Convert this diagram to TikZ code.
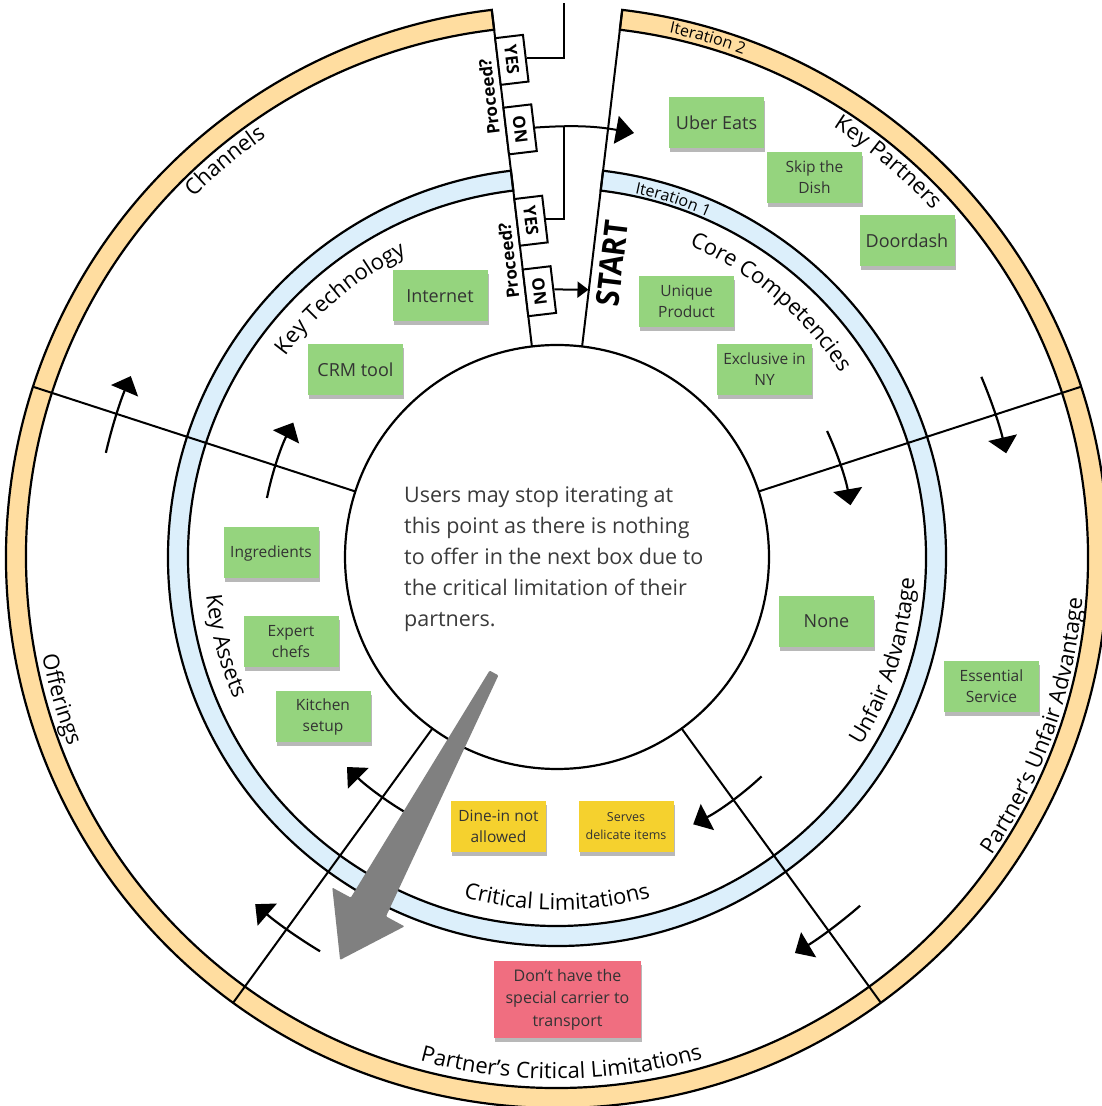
\documentclass[tikz,border=0pt]{standalone}
\usepackage{fontspec}
\setmainfont{Open Sans}
\usetikzlibrary{arrows.meta,decorations.text,shadows}
\definecolor{ringorange}{HTML}{FFDDA0}
\definecolor{ringblue}{HTML}{DCEFFB}
\definecolor{notegreen}{HTML}{95D47E}
\definecolor{noteyellow}{HTML}{F5D12E}
\definecolor{notepink}{HTML}{F06E80}
\definecolor{notetext}{HTML}{333333}
\definecolor{ctext}{HTML}{3A3A3A}
\definecolor{bigarrow}{HTML}{808080}
\newcommand{\labfont}{\fontsize{22}{26}\selectfont}
\newcommand{\itfont}{\fontsize{16}{19}\selectfont}
\tikzset{
  ringline/.style={draw=black, line width=2.2pt},
  divider/.style={line width=2pt},
  ringarrow/.style={line width=2.2pt, -{Triangle[length=16pt,width=29pt]}},
  conn/.style={line width=2pt},
  notebase/.style={minimum width=95pt, minimum height=51pt, inner sep=1pt, align=center, text=notetext,
    drop shadow={shadow xshift=1pt, shadow yshift=-4pt, opacity=0.28, fill=black}},
  gnote/.style={notebase, fill=notegreen, font=\fontsize{18}{22}\selectfont},
  gnotetwo/.style={notebase, fill=notegreen, font=\fontsize{15.5}{21}\selectfont},
  ynote/.style={notebase, fill=noteyellow, font=\fontsize{15.5}{21}\selectfont},
  pnote/.style={notebase, fill=notepink, minimum width=147pt, minimum height=77pt, font=\fontsize{16}{22.5}\selectfont},
  ynbox/.style={draw=black, fill=white, line width=2pt, minimum width=47pt, minimum height=28pt, inner sep=0pt,
    font=\bfseries\fontsize{17}{17}\selectfont},
  proceed/.style={inner sep=0pt, font=\bfseries\fontsize{17}{17}\selectfont},
  startlbl/.style={inner sep=0pt, font=\bfseries\fontsize{32}{32}\selectfont},
  centertext/.style={align=left, text=ctext, font=\fontsize{21.5}{31}\selectfont, inner sep=0pt},
  lbl/.style={decorate, decoration={text along path, text align=center, text={|\labfont|#1}}},
  itl/.style={decorate, decoration={text along path, text align=center, text={|\itfont|#1}}}
}
\begin{document}
\begin{tikzpicture}[x=1pt,y=1pt]
\useasboundingbox (0,0) rectangle (1102,1106);
\fill[white] (0,0) rectangle (1102,1106);
\begin{scope}[shift={(557,549)}]
  % rings
  \filldraw[ringline, fill=ringorange] (96.8:531) arc[start angle=96.8,end angle=443.2,radius=531]
     -- (443.2:551) arc[start angle=443.2,end angle=96.8,radius=551] -- cycle;
  \filldraw[ringline, fill=ringblue] (96.8:369) arc[start angle=96.8,end angle=443.2,radius=369]
     -- (443.2:389) arc[start angle=443.2,end angle=96.8,radius=389] -- cycle;
  \filldraw[ringline, fill=white] (0,0) circle[radius=212];
  % dividers
  \foreach \a in {96.8,83.2,162,18,234,306} \draw[divider] (\a:212) -- (\a:551);
  % circulating arrows
  \draw[ringarrow] (168.5:296) arc[start angle=168.5,end angle=153,radius=296];
  \draw[ringarrow] (25:298) arc[start angle=25,end angle=10,radius=298];
  \draw[ringarrow] (313:300) arc[start angle=313,end angle=297,radius=300];
  \draw[ringarrow] (239:297) arc[start angle=239,end angle=225,radius=297];
  \draw[ringarrow] (167:463) arc[start angle=167,end angle=157,radius=463];
  \draw[ringarrow] (23:461) arc[start angle=23,end angle=13,radius=461];
  \draw[ringarrow] (311:462) arc[start angle=311,end angle=301,radius=462];
  \draw[ringarrow] (239:460) arc[start angle=239,end angle=229,radius=460];
  % curved labels
  \path[lbl=Channels] (165:511) arc[start angle=165,end angle=95,radius=511];
  \path[lbl=Key Partners] (85:511) arc[start angle=85,end angle=15,radius=511];
  \path[lbl=Key Technology] (165:338) arc[start angle=165,end angle=95,radius=338];
  \path[lbl=Core Competencies] (85:338) arc[start angle=85,end angle=15,radius=338];
  \path[itl=Iteration 2] (88.8:536) arc[start angle=88.8,end angle=58.8,radius=536];
  \path[itl=Iteration 1] (87:372) arc[start angle=87,end angle=57,radius=372];
  \path[lbl=Critical Limitations] (235:353) arc[start angle=235,end angle=305,radius=353];
  \path[lbl=Partner’s Critical Limitations] (235.5:522) arc[start angle=235.5,end angle=305.5,radius=522];
  \path[lbl=Key Assets] (160:353) arc[start angle=160,end angle=230,radius=353];
  \path[lbl=Offerings] (161:524) arc[start angle=161,end angle=231,radius=524];
  \path[lbl=Unfair Advantage] (307.4:358) arc[start angle=307.4,end angle=377.4,radius=358];
  \path[lbl=Partner’s Unfair Advantage] (305.5:527) arc[start angle=305.5,end angle=375.5,radius=527];
\end{scope}
% proceed lane boxes
\begin{scope}[shift={(557,549)}, rotate=6.8, transform shape]
  \node[ynbox, rotate=-90] (yes2) at (14,499) {YES};
  \node[ynbox, rotate=90] (no2) at (14,429) {NO};
  \node[proceed, rotate=90] (pr2) at (-13,465) {Proceed?};
  \node[ynbox, rotate=-90] (yes1) at (14,337) {YES};
  \node[ynbox, rotate=90] (no1) at (14,266) {NO};
  \node[proceed, rotate=90] (pr1) at (-13,300) {Proceed?};
\end{scope}
\node[startlbl, rotate=83.2] (start) at (612,843) {\scalebox{0.9}[1]{START}};
\coordinate (topend) at (564,1103);
\coordinate (join) at (564,979.3);
\coordinate (notiptwo) at (634,973);
\coordinate (notipone) at (588.5,816.3);
\draw[conn] (yes2.north) -| (topend);
\draw[conn, -{Triangle[length=18pt,width=28pt]}] (no2.south) to[bend left=7] (notiptwo);
\draw[conn] (yes1.north) -| (join);
\draw[conn, -{Triangle[length=11pt,width=16pt]}] (no1.south) -- (notipone);
% sticky notes
\node[gnote] (uber) at (716.5,983) {Uber Eats};
\node[gnotetwo] (skip) at (814.5,928.5) {Skip the\\Dish};
\node[gnote] (door) at (907,865.5) {Doordash};
\node[gnotetwo] (uniq) at (686.5,804.5) {Unique\\Product};
\node[gnotetwo] (excl) at (764.5,736.5) {Exclusive in\\NY};
\node[gnote] (inet) at (440,810) {Internet};
\node[gnote] (crm) at (355.5,736.5) {CRM tool};
\node[gnotetwo] (ingr) at (271,553) {Ingredients};
\node[gnotetwo] (chef) at (291,464) {Expert\\chefs};
\node[gnotetwo] (kitc) at (323,389.5) {Kitchen\\setup};
\node[gnote] (none) at (826.5,484.5) {None};
\node[gnotetwo] (ess) at (991.5,419.5) {Essential\\Service};
\node[ynote] (dine) at (498.5,279.5) {Dine-in not\\allowed};
\node[ynote, font=\fontsize{12.5}{18}\selectfont] (serv) at (626,279.5) {Serves\\delicate items};
\node[pnote] (pink) at (567.5,106.5) {Don\char39t have the\\special carrier to\\transport};
% centre text
\node[centertext, anchor=west] (ctxt) at (404,547) {Users may stop iterating at\\this point as there is nothing\\to offer in the next box due to\\the critical limitation of their\\partners.};
% big grey arrow
\fill[bigarrow, rounded corners=1pt] (489.6,435.4) -- (350.8,208.4) -- (332.3,218.4) -- (340.1,146.1)
   -- (404.5,179.6) -- (386,189.6) -- (498.4,430.6) -- cycle;
\end{tikzpicture}
\end{document}
